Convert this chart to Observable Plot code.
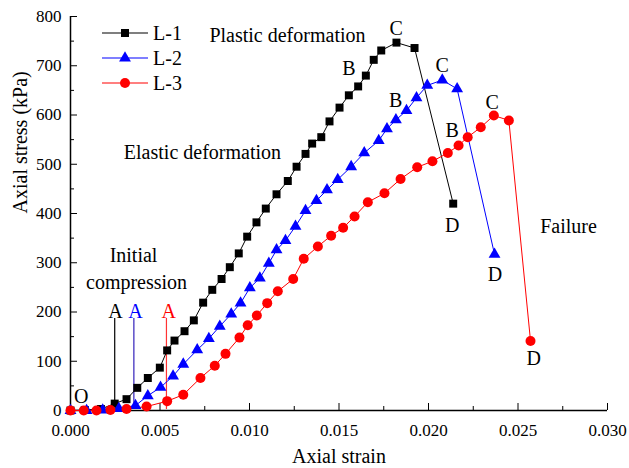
<!DOCTYPE html>
<html><head><meta charset="utf-8">
<script src="https://cdn.jsdelivr.net/npm/d3@7"></script>
<script src="https://cdn.jsdelivr.net/npm/@observablehq/plot@0.6"></script>
<style>
body{margin:0;background:#fff}
#wrap{position:relative;width:629px;height:468px;font-family:'Liberation Serif',serif}
#wrap svg text{font-family:'Liberation Serif',serif}
#legend{position:absolute;left:0;top:0}
</style>
</head><body><div id="wrap"></div>
<script>
// ---- data ----
const strainL1 = [0, 0.0008, 0.0017, 0.00247, 0.00313, 0.00373, 0.00432, 0.00499, 0.0054, 0.00581, 0.00637, 0.00689, 0.00741, 0.00792, 0.00844, 0.0089, 0.0094, 0.00987, 0.01039, 0.01091, 0.01151, 0.01214, 0.01263, 0.01313, 0.0135, 0.01401, 0.01447, 0.01503, 0.01555, 0.01607, 0.0165, 0.01694, 0.01736, 0.01821, 0.01922, 0.02138];
const stressL1 = [0, 1, 3, 14, 23, 46, 66, 87, 122, 142, 161, 183, 219, 245, 267, 291, 319, 353, 382, 410, 439, 466, 495, 521, 542, 555, 587, 615, 640, 658, 680, 712, 731, 747, 736, 420];
const strainL2 = [0, 0.0009, 0.0018, 0.0027, 0.00363, 0.00432, 0.00503, 0.00573, 0.0063, 0.00708, 0.00773, 0.00834, 0.00898, 0.0095, 0.01002, 0.01058, 0.01108, 0.01151, 0.01201, 0.01257, 0.01313, 0.01374, 0.01433, 0.01493, 0.01568, 0.01641, 0.01722, 0.01768, 0.01818, 0.01877, 0.01933, 0.01993, 0.02077, 0.0216, 0.02369];
const stressL2 = [0, 0, 1, 4, 10, 30, 47, 70, 94, 123, 146, 171, 196, 218, 249, 269, 299, 326, 345, 374, 406, 426, 448, 469, 495, 523, 548, 572, 590, 609, 635, 660, 671, 653, 317];
const strainL3 = [0, 0.00074, 0.00145, 0.00223, 0.00313, 0.00425, 0.0054, 0.0063, 0.00726, 0.00806, 0.00866, 0.00944, 0.0099, 0.01041, 0.01099, 0.01158, 0.01244, 0.01303, 0.01382, 0.01456, 0.01523, 0.01587, 0.01661, 0.01754, 0.01844, 0.01937, 0.02022, 0.02108, 0.02168, 0.02219, 0.02292, 0.02365, 0.02449, 0.0257];
const stressL3 = [0, 0, 0, 1, 3, 8, 19, 32, 66, 91, 115, 148, 173, 193, 218, 242, 267, 308, 333, 355, 371, 394, 423, 441, 470, 494, 506, 523, 538, 555, 575, 599, 589, 141];

const seriesNames = ["L-1", "L-2", "L-3"];
const seriesColors = ["#000000", "#0000ff", "#ff0000"];
const seriesSymbols = ["square", "triangle", "circle"];
const seriesRadius = [4.5, 4.4, 5];

const xMajorTicks = [0, 0.005, 0.010, 0.015, 0.020, 0.025, 0.030];
const xMinorTicks = [0.0025, 0.0075, 0.0125, 0.0175, 0.0225, 0.0275];
const yMajorTicks = [0, 100, 200, 300, 400, 500, 600, 700, 800];
const yMinorTicks = [50, 150, 250, 350, 450, 550, 650, 750];

// annotations
const annoText  = ["Plastic deformation", "Elastic deformation", "Initial", "compression", "Failure", "O",
                   "A", "A", "A", "B", "C", "D", "B", "C", "D", "B", "C", "D"];
const annoX     = [0.01212, 0.00737, 0.00352, 0.00369, 0.02782, 0.0006,
                   0.00251, 0.00363, 0.00549, 0.01555, 0.0182, 0.02132, 0.01816, 0.02077, 0.02372, 0.02132, 0.02356, 0.02588];
const annoY     = [761, 524, 315, 260, 374, 28,
                   200, 200, 200, 694, 775, 376, 629, 700, 276, 569, 626, 105];
const annoColor = ["#000", "#000", "#000", "#000", "#000", "#000",
                   "#000", "#0000ff", "#ff0000", "#000", "#000", "#000", "#000", "#000", "#000", "#000", "#000", "#000"];

// "A" guide lines
const guideX = [0.00247, 0.00354, 0.00536];
const guideY1 = [7, 12, 2];
const guideY2 = [187, 187, 187];
const guideColor = ["#000000", "#3322bb", "#ff3333"];

// ---- build ----
const strains = [strainL1, strainL2, strainL3];
const stresses = [stressL1, stressL2, stressL3];
const rows = seriesNames.map((name, k) => strains[k].map((x, i) => ({series: name, x, y: stresses[k][i]})));
const annos = annoText.map((t, i) => ({t, x: annoX[i], y: annoY[i], c: annoColor[i]}));
const guides = guideX.map((x, i) => ({x, y1: guideY1[i], y2: guideY2[i], c: guideColor[i]}));

const FONT = "'Liberation Serif', serif";

const chart = Plot.plot({
  width: 629, height: 468,
  marginLeft: 70, marginRight: 22, marginTop: 16, marginBottom: 58,
  x: {domain: [0, 0.03]},
  y: {domain: [0, 800]},
  style: {fontFamily: FONT, fontSize: "17px", color: "#000", background: "#fff"},
  marks: [
    Plot.axisX({ticks: xMajorTicks, tickSize: -7, tickPadding: 20, tickFormat: d3.format(".3f"), label: null, fontSize: 17, fontFamily: FONT}),
    Plot.axisX({ticks: xMinorTicks, tickSize: -4, tickFormat: () => "", label: null}),
    Plot.axisY({ticks: yMajorTicks, tickSize: -7, tickFormat: d3.format("d"), label: null, fontSize: 17, fontFamily: FONT}),
    Plot.axisY({ticks: yMinorTicks, tickSize: -4, tickFormat: () => "", label: null}),
    Plot.ruleX([0], {stroke: "#000", strokeWidth: 1.5}),
    Plot.ruleY([0], {stroke: "#000", strokeWidth: 1.5}),
    Plot.text(["Axial strain"], {frameAnchor: "bottom", dy: 52, fontSize: 20, fill: "#000", fontFamily: FONT}),
    Plot.text(["Axial stress (kPa)"], {frameAnchor: "left", rotate: -90, dx: -50, fontSize: 20, fill: "#000", fontFamily: FONT}),
    Plot.ruleX(guides, {x: "x", y1: "y1", y2: "y2", stroke: "c", strokeWidth: 1.2}),
    ...rows.map((r, k) => Plot.line(r, {x: "x", y: "y", stroke: seriesColors[k], strokeWidth: 1})),
    ...rows.map((r, k) => Plot.dot(r, {x: "x", y: "y", symbol: seriesSymbols[k], fill: seriesColors[k], stroke: "none", r: seriesRadius[k]})),
    Plot.text(annos, {x: "x", y: "y", text: "t", fill: "c", fontSize: 20, fontFamily: FONT})
  ]
});
document.getElementById("wrap").appendChild(chart);

// legend overlay
const lg = d3.select("#wrap").append("svg").attr("id", "legend").attr("width", 200).attr("height", 100)
  .style("font-family", FONT);
const symGen = {square: d3.symbolSquare, triangle: d3.symbolTriangle, circle: d3.symbolCircle};
seriesNames.forEach((name, k) => {
  const y = 33 + k * 25;
  lg.append("line").attr("x1", 102).attr("x2", 148).attr("y1", y).attr("y2", y)
    .attr("stroke", seriesColors[k]).attr("stroke-width", 1.2);
  const r = seriesRadius[k];
  lg.append("path").attr("transform", `translate(125,${y})`)
    .attr("d", d3.symbol(symGen[seriesSymbols[k]], Math.PI * r * r)())
    .attr("fill", seriesColors[k]);
  lg.append("text").attr("x", 153).attr("y", y).attr("dy", "0.35em")
    .attr("font-size", 20).attr("fill", "#000").text(name);
});
</script>
</body></html>
